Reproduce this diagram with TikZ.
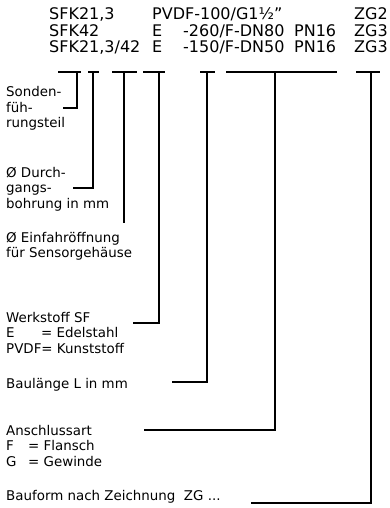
\documentclass[tikz,border=0pt]{standalone}
\usepackage{fontspec}
\setmainfont{DejaVu Sans}
\usetikzlibrary{positioning}
\newcommand{\hdrfont}{\fontsize{16pt}{17pt}\selectfont}
\newcommand{\lblfont}{\fontsize{13.4pt}{15.5pt}\selectfont}
\tikzset{
  hdr/.style     = {anchor=base west, inner sep=0pt, font=\hdrfont},
  lbl/.style     = {anchor=base west, inner sep=0pt, align=left, font=\lblfont},
  headbar/.style = {line width=1.6pt},
  tapline/.style = {line width=1.8pt}
}

\begin{document}
\begin{tikzpicture}[x=1pt, y=-1pt]
  \useasboundingbox (0,0) rectangle (389,508);

  % type code lines
  \node[hdr] (h1a) at (49,20) {SFK21,3};
  \node[hdr] (h1b) at (152,20) {PVDF-100/G1½”};
  \node[hdr] (h1e) at (354,20) {ZG2};
  \node[hdr] (h2a) at (49,36.5) {SFK42};
  \node[hdr] (h2b) at (152,36.5) {E};
  \node[hdr] (h2c) at (183,36.5) {-260/F-DN80};
  \node[hdr] (h2d) at (294,36.5) {PN16};
  \node[hdr] (h2e) at (354,36.5) {ZG3};
  \node[hdr] (h3a) at (49,53) {SFK21,3/42};
  \node[hdr] (h3b) at (152,53) {E};
  \node[hdr] (h3c) at (183,53) {-150/F-DN50};
  \node[hdr] (h3d) at (294,53) {PN16};
  \node[hdr] (h3e) at (354,53) {ZG3};

  % brackets under the code
  \draw[headbar] (58,72) -- (81,72);
  \draw[headbar] (88,72) -- (99,72);
  \draw[headbar] (112,72) -- (137,72);
  \draw[headbar] (143,72) -- (165,72);
  \draw[headbar] (200,72) -- (215,72);
  \draw[headbar] (226,72) -- (337,72);
  \draw[headbar] (356,72) -- (380,72);

  % explanations (placed at the baseline of the last line)
  \node[lbl] (sonde)   at (6,128) {Sonden-\\füh-\\rungsteil};
  \node[lbl] (durch)   at (6,208) {Ø Durch-\\gangs-\\bohrung in mm};
  \node[lbl] (einfahr) at (6,257.5) {Ø Einfahröffnung\\für Sensorgehäuse};
  \node[lbl] (werk)    at (6,353) {Werkstoff SF\\\makebox[35pt][l]{E}= Edelstahl\\PVDF= Kunststoff};
  \node[lbl] (laenge)  at (6,388) {Baulänge L in mm};
  \node[lbl] (anschl)  at (6,466) {Anschlussart\\\makebox[22pt][l]{F}= Flansch\\\makebox[22pt][l]{G}= Gewinde};
  \node[lbl] (bauform) at (6,500) {Bauform nach Zeichnung\ \ ZG ...};

  % tap points and line ends
  \coordinate (t1) at (77,72);  \coordinate (e1) at (63,108);
  \coordinate (t2) at (93,72);  \coordinate (e2) at (73,188);
  \coordinate (t3) at (124,72); \coordinate (e3) at (124,223);
  \coordinate (t4) at (159,72); \coordinate (e4) at (133,323);
  \coordinate (t5) at (207,72); \coordinate (e5) at (172,382);
  \coordinate (t6) at (275,72); \coordinate (e6) at (144,430);
  \coordinate (t7) at (371,72); \coordinate (e7) at (251,503);

  \draw[tapline] (t1) |- (e1);
  \draw[tapline] (t2) |- (e2);
  \draw[tapline] (t3) -- (e3);
  \draw[tapline] (t4) |- (e4);
  \draw[tapline] (t5) |- (e5);
  \draw[tapline] (t6) |- (e6);
  \draw[tapline] (t7) |- (e7);
\end{tikzpicture}
\end{document}
